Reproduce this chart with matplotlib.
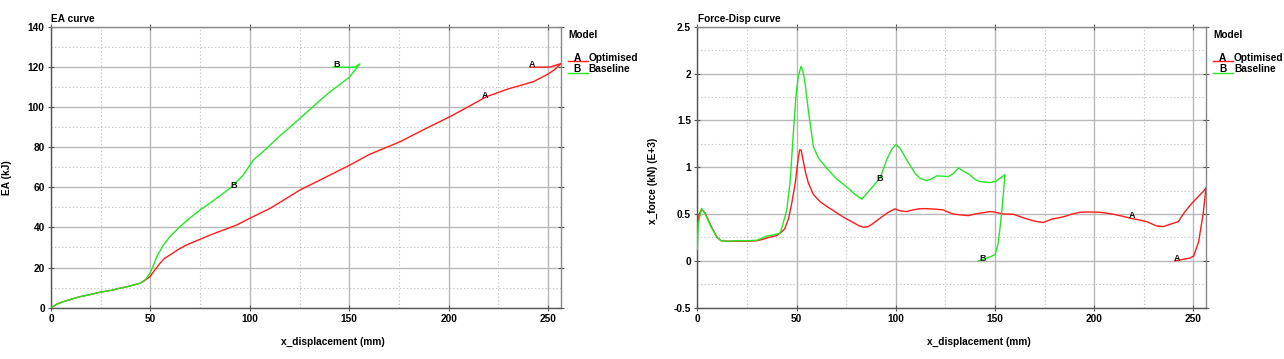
import matplotlib
matplotlib.use("Agg")
import matplotlib.pyplot as plt
from matplotlib.ticker import MultipleLocator
from matplotlib.lines import Line2D

plt.rcParams['font.family'] = ['Liberation Sans', 'DejaVu Sans']

# ---------------- data ----------------
ea_opt_x = [0, 3, 6.2, 10, 14.6, 20, 24.6, 30, 34.7, 39.7, 44.8, 46.4, 49.8, 52, 54.8, 57,
            59.9, 64, 68.3, 75, 80, 86.7, 93.4, 100.1, 110.2, 117, 125.3, 135.3, 140.3,
            150.4, 160, 175.6, 188, 200.7, 210, 219.2, 230, 242.6, 250.2, 253.5, 256.4,
            251, 241]
ea_opt_y = [0, 1.8, 3.0, 4.2, 5.5, 6.6, 7.7, 8.6, 9.7, 10.8, 12.2, 13.0, 15.5, 18.5, 22.1, 24.5,
            26.3, 29.0, 31.3, 34.1, 36.2, 38.7, 41.2, 44.6, 49.5, 53.6, 58.7, 63.6, 66.1,
            71.1, 76.3, 82.7, 89.0, 95.2, 100.2, 105.2, 109.0, 112.6, 116.5, 118.8, 121.6,
            119.9, 119.8]

ea_base_x = [0, 3, 6.2, 10, 14.6, 20, 24.6, 30, 34.7, 39.7, 44.8, 47.5, 49.8, 51.5, 53.2,
             56.5, 60, 64.9, 70, 75, 83.3, 90, 93, 96.7, 101.8, 107.6, 115, 120, 125.3,
             130, 135.3, 140, 145, 150, 155.4, 152.9, 142]
ea_base_y = [0, 1.8, 3.0, 4.2, 5.5, 6.6, 7.7, 8.6, 9.7, 10.8, 12.2, 14.0, 17.1, 21.0, 25.4,
             31.2, 35.6, 40.4, 44.8, 48.7, 54.5, 59.5, 62.3, 66.1, 73.6, 78.6, 85.5, 89.8, 94.4,
             98.6, 103.3, 107.3, 111.0, 114.8, 121.5, 119.8, 119.8]

f_opt_x = [0, 1, 2.2, 4, 7, 10, 12, 15, 20, 25, 30, 33, 36, 40, 41.7, 44, 46, 47.6, 49.5,
           50.9, 51.6, 52.3, 53.2, 54.5, 56, 58.5, 61.8, 65, 68, 71.9, 75, 78.6, 81, 83.7,
           86, 88, 92.1, 96, 99.6, 102, 105.5, 108, 111.4, 115, 120, 124, 126.5, 129, 133,
           136.6, 140, 142.5, 147.5, 150, 154.3, 159.3, 163, 167.7, 171, 174.4, 178.6,
           184.5, 189, 192.9, 197, 202.9, 206, 209.7, 214, 218.3, 222, 226.5, 231.5, 234.9,
           238.3, 242.4, 245.8, 249.5, 252.5, 255, 256.4, 255, 252.7, 250.2, 248.3, 245,
           240.8]
f_opt_y = [0.38, 0.50, 0.55, 0.51, 0.37, 0.25, 0.215, 0.21, 0.21, 0.21, 0.215, 0.23, 0.25,
           0.27, 0.295, 0.34, 0.45, 0.615, 0.85, 1.10, 1.185, 1.185, 1.09, 0.95, 0.83, 0.71,
           0.633, 0.585, 0.545, 0.49, 0.45, 0.41, 0.38, 0.359, 0.365, 0.39, 0.455, 0.515,
           0.555, 0.535, 0.526, 0.54, 0.555, 0.558, 0.552, 0.544, 0.52, 0.5, 0.49, 0.483,
           0.5, 0.509, 0.526, 0.52, 0.50, 0.498, 0.47, 0.437, 0.42, 0.41, 0.445, 0.47, 0.5,
           0.519, 0.522, 0.519, 0.51, 0.498, 0.478, 0.455, 0.44, 0.419, 0.373, 0.366, 0.39,
           0.419, 0.526, 0.62, 0.686, 0.74, 0.78, 0.509, 0.205, 0.052, 0.03, 0.017, 0.0]

f_base_x = [0, 0.5, 2.2, 4, 7, 10, 12, 15, 20, 25, 30, 33, 35, 38, 41.7, 43, 45.1, 46.8,
            48.4, 49.7, 50.9, 52.3, 53.2, 54.3, 56, 58.5, 61, 65.2, 70, 75.3, 79, 82.9, 87,
            92.1, 95.5, 98, 100, 102, 105.5, 109.7, 112.5, 115.6, 118, 120.7, 123, 126.5,
            129, 131.6, 134, 137.4, 140, 142.5, 147.5, 150.5, 152.6, 155.1, 153.4, 151.7,
            150.1, 146, 141.6]
f_base_y = [0.12, 0.40, 0.56, 0.50, 0.36, 0.25, 0.215, 0.21, 0.215, 0.215, 0.22, 0.245,
            0.265, 0.275, 0.295, 0.38, 0.544, 0.85, 1.364, 1.75, 1.97, 2.076, 2.03, 1.9, 1.6,
            1.22, 1.1, 0.99, 0.88, 0.79, 0.72, 0.658, 0.758, 0.883, 1.08, 1.19, 1.24, 1.21,
            1.08, 0.936, 0.88, 0.857, 0.875, 0.907, 0.905, 0.9, 0.93, 0.99, 0.96, 0.918,
            0.87, 0.846, 0.836, 0.85, 0.883, 0.92, 0.51, 0.19, 0.065, 0.03, 0.0]

series_names = ['Optimised', 'Baseline']
series_letters = ['A', 'B']
series_colors = ['#ff1a1a', '#22e822']

# letter marker positions (x, y) per chart
ea_marks = [('A', 218.5, 105.5), ('A', 242, 121), ('B', 92, 61), ('B', 143.5, 121)]
f_marks = [('A', 219, 0.48), ('A', 242, 0.025), ('B', 92, 0.88), ('B', 144, 0.025)]

# ---------------- figure ----------------
W, H = 1284, 359
fig = plt.figure(figsize=(W / 100, H / 100), dpi=100)


def fx(px):
    return px / W


def fy(py):
    return 1 - py / H


FS = 7.3


def style_axes(ax, xmaj, xmin, ymaj, ymin):
    ax.xaxis.set_major_locator(MultipleLocator(xmaj))
    ax.xaxis.set_minor_locator(MultipleLocator(xmin))
    ax.yaxis.set_major_locator(MultipleLocator(ymaj))
    ax.yaxis.set_minor_locator(MultipleLocator(ymin))
    ax.grid(which='major', color='#b8b8b8', lw=1.0, ls='-')
    ax.grid(which='minor', color='#c4c4c4', lw=0.8, ls=(0, (1.2, 2.0)))
    ax.set_axisbelow(True)
    for s in ['left', 'bottom']:
        ax.spines[s].set_color('#555555')
        ax.spines[s].set_linewidth(1.0)
    for s in ['top', 'right']:
        ax.spines[s].set_color('#888888')
        ax.spines[s].set_linewidth(1.0)
    ax.tick_params(which='major', direction='inout', length=5, width=0.8,
                   color='#555555', pad=2, labelsize=FS, right=True, top=True)
    ax.tick_params(which='minor', length=0)
    for lab in ax.get_xticklabels() + ax.get_yticklabels():
        lab.set_fontweight('bold')


def add_marks(ax, marks):
    for letter, x, y in marks:
        ax.text(x, y, letter, fontsize=6.5, fontweight='bold', ha='center', va='center',
                color='#111111', zorder=5)


def add_legend(px0, title_y=35):
    fig.text(fx(px0), fy(title_y), 'Model', fontsize=FS, fontweight='bold',
             ha='left', va='center')
    for i, (lt, nm, col) in enumerate(zip(series_letters, series_names, series_colors)):
        yy = 57.7 + i * 11.6
        fig.add_artist(Line2D([fx(px0), fx(px0 + 20)], [fy(yy + 3.3), fy(yy + 3.3)],
                              color=col, lw=1.0, transform=fig.transFigure))
        fig.text(fx(px0 + 9.5), fy(yy), lt, fontsize=FS, fontweight='bold',
                 ha='center', va='center')
        fig.text(fx(px0 + 20.7), fy(yy), nm, fontsize=FS, fontweight='bold',
                 ha='left', va='center')


top_px, bot_px = 26.7, 307.7
# ---- left: EA curve ----
ax1 = fig.add_axes([fx(51), fy(bot_px), (561 - 51) / W, (bot_px - top_px) / H])
ax1.plot(ea_opt_x, ea_opt_y, color=series_colors[0], lw=1.0, zorder=3)
ax1.plot(ea_base_x, ea_base_y, color=series_colors[1], lw=1.0, zorder=3)
ax1.set_xlim(0, 256.5)
ax1.set_ylim(0, 140)
style_axes(ax1, 50, 25, 20, 10)
add_marks(ax1, ea_marks)

# ---- right: Force-Disp ----
ax2 = fig.add_axes([fx(697.3), fy(bot_px), (1206 - 697.3) / W, (bot_px - top_px) / H])
ax2.plot(f_opt_x, f_opt_y, color=series_colors[0], lw=1.0, zorder=3)
ax2.plot(f_base_x, f_base_y, color=series_colors[1], lw=1.0, zorder=3)
ax2.set_xlim(0, 256.4)
ax2.set_ylim(-0.5, 2.5)
style_axes(ax2, 50, 25, 0.5, 0.25)
ax2.yaxis.set_major_formatter(plt.FuncFormatter(lambda v, p: ('%g' % v)))
for lab in ax2.get_yticklabels():
    lab.set_fontweight('bold')
add_marks(ax2, f_marks)

# titles and axis labels
fig.text(fx(51), fy(19), 'EA curve', fontsize=FS, fontweight='bold', ha='left', va='center')
fig.text(fx(697.7), fy(19), 'Force-Disp curve', fontsize=FS, fontweight='bold',
         ha='left', va='center')
fig.text(fx(332.5), fy(341.5), 'x_displacement (mm)', fontsize=FS, fontweight='bold',
         ha='center', va='center')
fig.text(fx(979), fy(341.5), 'x_displacement (mm)', fontsize=FS, fontweight='bold',
         ha='center', va='center')
fig.text(fx(7.5), fy(178), 'EA (kJ)', fontsize=FS, fontweight='bold', ha='center',
         va='center', rotation=90)
fig.text(fx(653), fy(181), 'x_force (kN) (E+3)', fontsize=FS, fontweight='bold',
         ha='center', va='center', rotation=90)

add_legend(568)
add_legend(1213.3)

fig.savefig('out.png', dpi=100)
